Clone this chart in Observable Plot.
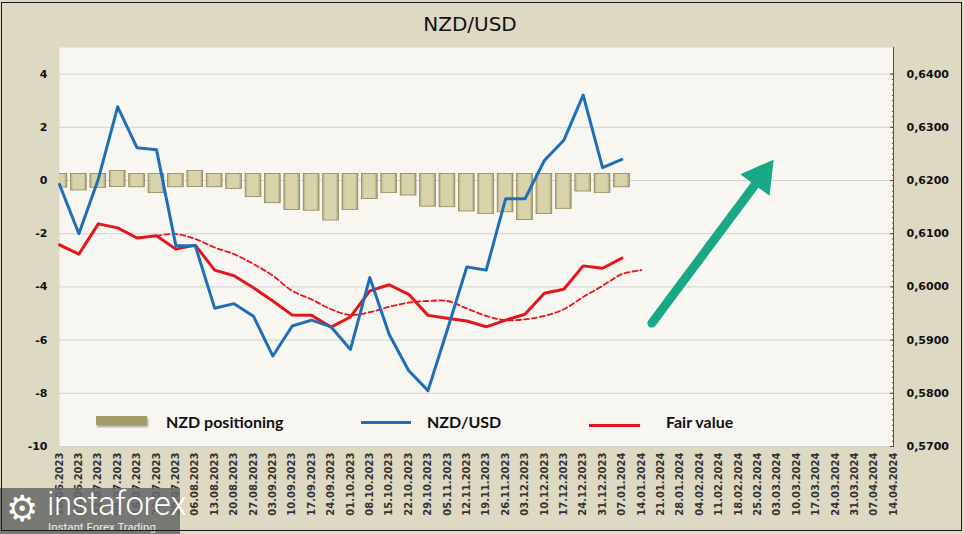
<!DOCTYPE html>
<html><head><meta charset="utf-8">
<script src="https://cdn.jsdelivr.net/npm/d3@7"></script>
<script src="https://cdn.jsdelivr.net/npm/@observablehq/plot@0.6"></script>
<style>
body{margin:0;background:#ddd9c3;}
#wrap{position:relative;width:964px;height:534px;background:#ddd9c3;overflow:hidden;font-family:"DejaVu Sans",Verdana,sans-serif;}
#title{position:absolute;left:0;top:0;width:940px;height:47px;line-height:49px;text-align:center;font-size:20px;color:#111;}
#chart{position:absolute;left:0;top:47px;}
#chart svg text{font-weight:bold;}
#border{position:absolute;left:1px;top:2px;width:959px;height:527px;border:1px solid #1a1a1a;pointer-events:none;}
.leg{position:absolute;font-family:Lato,"Open Sans",sans-serif;font-weight:bold;font-size:16px;color:#111;line-height:18px;}
.sw{position:absolute;}
#logo{position:absolute;left:0;top:488px;width:180px;height:46px;background:rgba(105,105,105,0.88);color:#fff;font-family:Roboto,"Open Sans",sans-serif;}
</style></head>
<body>
<div id="wrap">
  <div id="title">NZD/USD</div>
  <div id="chart"></div>
  <div class="sw" style="left:96px;top:416px;width:51px;height:9px;background:#a29c6c;box-shadow:1px 2px 2px rgba(0,0,0,0.35);"></div>
  <div class="leg" style="left:166px;top:413px;">NZD positioning</div>
  <div class="sw" style="left:361px;top:421px;width:50px;height:3px;background:#1f6fb7;"></div>
  <div class="leg" style="left:427px;top:413px;">NZD/USD</div>
  <div class="sw" style="left:589px;top:424px;width:51px;height:3px;background:#e3161c;"></div>
  <div class="leg" style="left:666px;top:413px;">Fair value</div>
  <div id="logo">
    <div style="position:absolute;left:6px;top:1px;font-size:36px;line-height:40px;font-family:'DejaVu Sans';">⚙</div>
    <div style="position:absolute;left:47px;top:1px;font-size:33px;line-height:30px;font-weight:300;letter-spacing:-0.5px;">instaforex</div>
    <div style="position:absolute;left:48px;top:33px;font-size:11.5px;line-height:12px;color:#eee;">Instant Forex Trading</div>
  </div>
  <div id="border"></div>
</div>
<script>
// ---------- data ----------
const weekLabels = ["18.06.2023","25.06.2023","02.07.2023","09.07.2023","16.07.2023","23.07.2023","30.07.2023","06.08.2023","13.08.2023","20.08.2023","27.08.2023","03.09.2023","10.09.2023","17.09.2023","24.09.2023","01.10.2023","08.10.2023","15.10.2023","22.10.2023","29.10.2023","05.11.2023","12.11.2023","19.11.2023","26.11.2023","03.12.2023","10.12.2023","17.12.2023","24.12.2023","31.12.2023","07.01.2024","14.01.2024","21.01.2024","28.01.2024","04.02.2024","11.02.2024","18.02.2024","25.02.2024","03.03.2024","10.03.2024","17.03.2024","24.03.2024","31.03.2024","07.04.2024","14.04.2024"];

// NZD positioning (left axis)
const positioning = [-0.02,-0.13,-0.03,0.11,-0.01,-0.23,-0.01,0.11,-0.01,-0.07,-0.38,-0.61,-0.86,-0.89,-1.26,-0.86,-0.45,-0.22,-0.32,-0.74,-0.76,-0.92,-1.01,-0.95,-1.24,-1.01,-0.82,-0.17,-0.22,-0.01];

// NZD/USD (right axis)
const nzdusd = [0.61925,0.6100,0.62025,0.63385,0.62615,0.6258,0.60775,0.60775,0.5960,0.59685,0.5945,0.5870,0.59265,0.59375,0.5925,0.58825,0.60175,0.59105,0.5843,0.5805,0.5920,0.60375,0.60315,0.61655,0.61655,0.62375,0.62755,0.63605,0.6224,0.62395];

// Fair value (right axis)
const fairValue = [0.6079,0.60615,0.61185,0.6111,0.6092,0.6096,0.6071,0.60785,0.60315,0.6021,0.59985,0.59735,0.5947,0.59465,0.59245,0.59435,0.59925,0.6004,0.5986,0.59465,0.5941,0.5936,0.5925,0.59375,0.59485,0.5988,0.59955,0.60395,0.6035,0.6054];

// Fair value trend (dashed, right axis)
const fairTrend = [null,null,null,null,null,0.6096,0.60995,0.609,0.6074,0.60615,0.6043,0.6021,0.59925,0.59765,0.5958,0.5947,0.59525,0.59625,0.59705,0.59735,0.59735,0.59595,0.59455,0.59375,0.5939,0.59455,0.5958,0.5981,0.6002,0.6024,0.60315];

const leftTicks = [-10,-8,-6,-4,-2,0,2,4];
const rightTicks = [0.57,0.58,0.59,0.60,0.61,0.62,0.63,0.64];

// annotation arrow (date, left-axis value)
const arrowFrom = ["2024-01-17T19:00Z", -5.36];
const arrowTo = ["2024-02-26T06:00Z", 0.15];
const arrowAngle = 36.5;

// ---------- mapping between axes ----------
const priceBase = 0.62, pricePerUnit = 0.005;   // 0 on left = 0.6200; 2 units = 0.0100
const toLeft = p => (p - priceBase) / pricePerUnit;
const fmtPrice = v => (priceBase + v * pricePerUnit).toFixed(4).replace(".", ",");

const parse = d3.utcParse("%d.%m.%Y");
const dates = weekLabels.map(parse);

const bars = positioning.map((v, i) => ({date: dates[i], v}));
const blue = nzdusd.map((p, i) => ({date: dates[i], v: toLeft(p)}));
const red = fairValue.map((p, i) => ({date: dates[i], v: toLeft(p)}));
const dash = fairTrend.map((p, i) => ({date: dates[i], v: p == null ? NaN : toLeft(p)})).filter(d => !isNaN(d.v));

const rightLeftTicks = rightTicks.map(toLeft);
const minorTicks = d3.range(570, 641).map(k => toLeft(k / 1000));
const arrowData = [{x1: new Date(arrowFrom[0]), y1: arrowFrom[1], x2: new Date(arrowTo[0]), y2: arrowTo[1]}];

const chart = Plot.plot({
  width: 964,
  height: 487,
  marginTop: 0,
  marginBottom: 88,
  marginLeft: 59,
  marginRight: 71,
  style: {fontFamily: "'DejaVu Sans', Verdana, sans-serif", background: "transparent", color: "#222"},
  x: {type: "utc", domain: [dates[0], dates[dates.length - 1]]},
  y: {domain: [-10, 5]},
  marks: [
    Plot.frame({fill: "#f7f6f1", stroke: null}),
    Plot.gridY({ticks: leftTicks, stroke: "#d2d2d2", strokeOpacity: 1}),
    Plot.rectY(bars, {
      x1: d => d3.utcHour.offset(d.date, -68),
      x2: d => d3.utcHour.offset(d.date, 68),
      y1: 0, y2: "v",
      insetTop: -6.5, insetBottom: -6.5,
      fill: "url(#barGrad)", stroke: "#8d875b", strokeWidth: 0.8,
      clip: true
    }),
    Plot.line(dash, {x: "date", y: "v", stroke: "#e3161c", strokeWidth: 1.8, strokeDasharray: "5,3", curve: "catmull-rom"}),
    Plot.line(red, {x: "date", y: "v", stroke: "#e3161c", strokeWidth: 3}),
    Plot.line(blue, {x: "date", y: "v", stroke: "#1f6fb7", strokeWidth: 3}),
    Plot.link(arrowData, {x1: "x1", y1: "y1", x2: "x2", y2: "y2", stroke: "#19a886", strokeWidth: 9, strokeLinecap: "round"}),
    Plot.dot(arrowData, {x: "x2", y: "y2", symbol: "triangle", r: 13.5, rotate: arrowAngle, fill: "#19a886", stroke: null}),
    Plot.axisY({anchor: "left", ticks: leftTicks, tickSize: 0, tickPadding: 12, tickFormat: d => String(d), fontSize: 11, fill: "#111", label: null}),
    Plot.ruleX([dates[dates.length - 1]], {stroke: "#6d4545", strokeWidth: 1}),
    Plot.axisY({anchor: "right", ticks: rightLeftTicks, tickSize: 4, dx: -4, tickFormat: () => "", stroke: "#6d4545", label: null}),
    Plot.axisY({anchor: "right", ticks: minorTicks, tickSize: 2, dx: -2, tickFormat: () => "", stroke: "#6d4545", label: null}),
    Plot.axisY({anchor: "right", ticks: rightLeftTicks, tickSize: 0, tickPadding: 13, tickFormat: fmtPrice, fontSize: 11, fill: "#111", label: null}),
    Plot.axisX({ticks: dates, tickSize: 0, tickRotate: -90, tickPadding: 6, tickFormat: d3.utcFormat("%d.%m.%Y"), fontSize: 10, fill: "#333", label: null})
  ]
});

// bevel-like gradient for bars
const ns = "http://www.w3.org/2000/svg";
const defs = document.createElementNS(ns, "defs");
defs.innerHTML = '<linearGradient id="barGrad" x1="0" x2="1" y1="0" y2="0">' +
  '<stop offset="0" stop-color="#b3ad80"/><stop offset="0.18" stop-color="#d9d3ab"/>' +
  '<stop offset="0.82" stop-color="#d9d3ab"/><stop offset="1" stop-color="#a39d70"/></linearGradient>';
chart.insertBefore(defs, chart.firstChild);
document.getElementById("chart").appendChild(chart);
</script>
</body></html>
